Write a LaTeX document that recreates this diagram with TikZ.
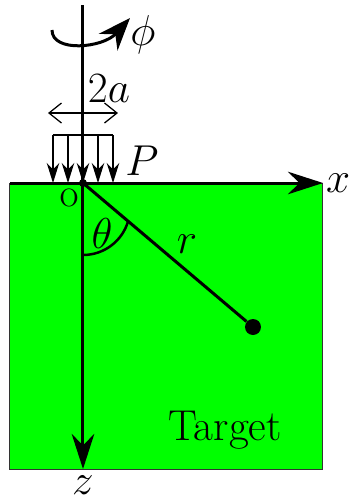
\documentclass[tikz,border=0pt]{standalone}
\usepackage{amsmath}
\usepackage{xcolor}
\usepackage{tikz}
\usetikzlibrary{arrows.meta,positioning,calc}

\begin{document}
\begin{tikzpicture}[
  x=0.4pt,
  y=0.4pt,
  font=\LARGE,
  axis/.style={line width=1.2pt, draw=black,
    -{Stealth[length=14pt, width=9pt]}},
  rod/.style={line width=1.2pt, draw=black},
  load/.style={line width=0.5pt, -{Stealth[length=8pt, width=5pt]}},
  span/.style={line width=0.5pt,
    {Straight Barb[length=5pt, width=8pt]}-{Straight Barb[length=5pt, width=8pt]}},
  spin/.style={line width=1.2pt, -{Stealth[length=13pt, width=10pt]}},
  targetbox/.style={draw=black!80, fill=green, line width=0.4pt,
    minimum width=124.8pt, minimum height=114.4pt, inner sep=0pt, outer sep=0pt},
  dot/.style={circle, fill=black, inner sep=0pt, minimum size=#1},
  lbl/.style={inner sep=1pt}
]

% Frame fixed to the size of the reference.
\useasboundingbox (-83,-318) rectangle (268,183);

% Target block below the surface.
\coordinate (O) at (0,0);
\node[targetbox, anchor=north west] (target) at (-73,0) {};
\node[lbl, anchor=base] (tname) at (142,-257) {Target};

% Radius to the field point and its angle.
\node[dot=6.4pt] (pt) at (170,-144) {};
\draw[rod] (O) -- (pt);
\draw[line width=1pt] (0,-72) arc[start angle=-90, end angle=-16, radius=47];
\node[lbl] (theta) at (19,-50) {$\theta$};
\node[lbl] (rlab) at (104,-61) {$r$};

% Axes through the origin.
\coordinate (xend) at (240,0);
\coordinate (zend) at (0,-286);
\coordinate (top) at (0,178);
\draw[axis] (target.north west) -- (xend);
\draw[axis] (top) -- (zend);
\node[lbl, anchor=west] (xlab) at (xend) {$x$};
\node[lbl, anchor=north] (zlab) at ($(zend)+(0,-4)$) {$z$};
\node[dot=3.2pt] (odot) at (O) {};
\node[lbl, font=\normalsize] (olab) at (-14,-15) {O};

% Distributed load of width 2a.
\draw[line width=0.5pt] (-30,48) -- (30,48);
\foreach \i in {-30,-15,0,15,30}
  \draw[load] (\i,48) -- (\i,0);
\node[lbl] (plab) at (59,22) {$P$};
\coordinate (wl) at (-35,70);
\coordinate (wr) at (35,70);
\draw[span] (wl) -- (wr);
\node[lbl] (alab) at (26,94) {$2a$};

% Rotation about the vertical axis.
\coordinate (sl) at (-31,153);
\coordinate (sr) at (47,165);
\draw[spin] (sl) .. controls (-31,130) and (20,135) .. (sr);
\node[lbl] (philab) at (60,148) {$\phi$};

\end{tikzpicture}
\end{document}
